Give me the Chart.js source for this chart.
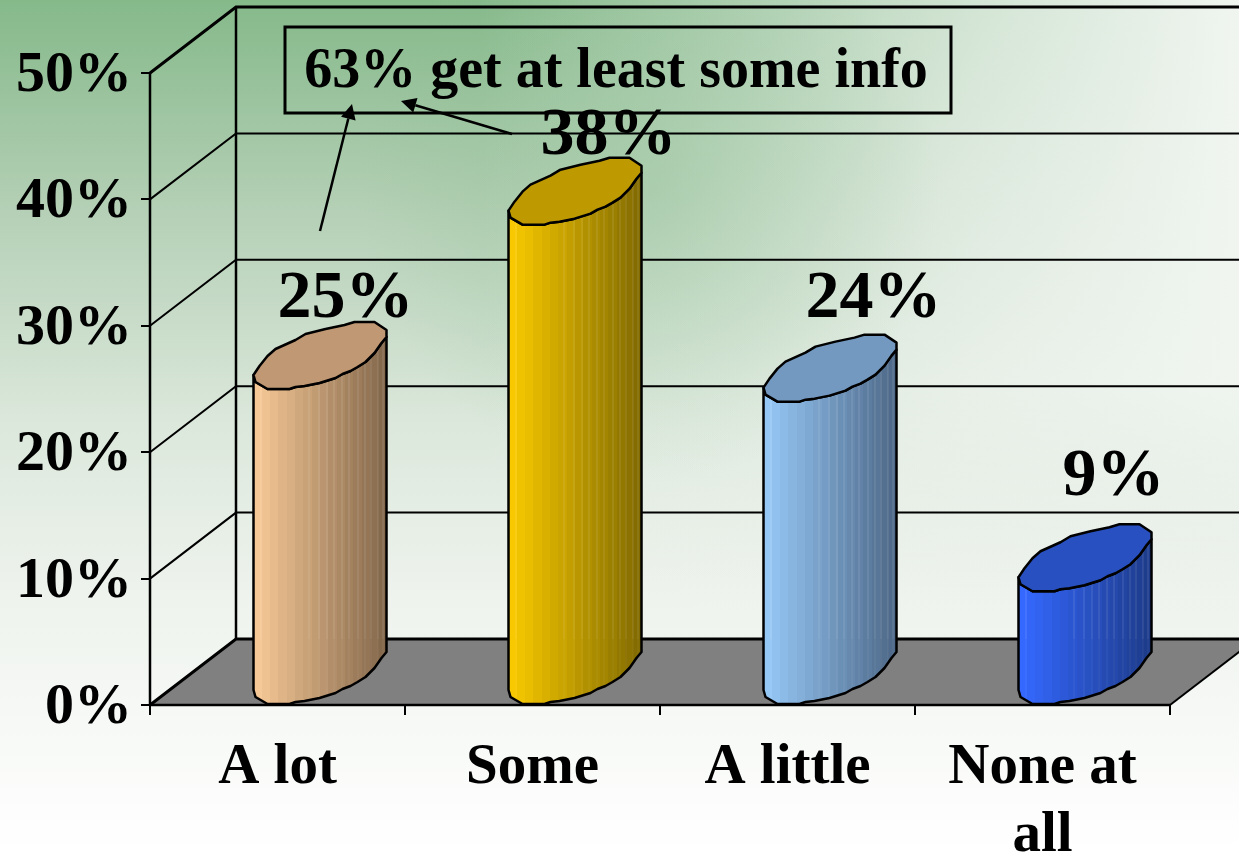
<!DOCTYPE html>
<html>
<head>
<meta charset="utf-8">
<style>html,body{margin:0;padding:0;background:#fff}#wrap{width:1239px;height:852px;position:relative;overflow:hidden}</style>
<script src="https://cdn.jsdelivr.net/npm/chart.js@4/dist/chart.umd.min.js"></script>
</head>
<body>
<div id="wrap"><canvas id="c" width="1239" height="852"></canvas></div>
<script>
const categories = [["A lot"], ["Some"], ["A little"], ["None at", "all"]];
const values = [25, 38, 24, 9];
const yTicks = [0, 10, 20, 30, 40, 50];
const noteText = "63% get at least some info";

const sideColors = [["#f6c896", "#85694c"], ["#f8c900", "#846c00"], ["#96c8f6", "#4f6a8a"], ["#3468ff", "#1e3c8c"]];
const capColors = ["#c09873", "#be9900", "#7399c0", "#2850c0"];
const labelShift = [[68, 5], [76, 4], [86, 18], [71, 29]];
const DEPTH_X = 86, DEPTH_Y = 66, HALF_DEPTH = 42.5;
const FONT = '"Liberation Serif", serif';

const capFront = [[0,-14],[2,-7],[14,0],[36,0],[42,-2],[51,-3],[66,-6],[82,-11],[89,-15],[97,-18],[104,-22],[112,-27],[121,-36],[128,-46],[133,-52]];
const capBack = [[133,-59],[121,-67],[101,-67],[91,-64],[72,-60],[52,-55],[42,-49],[22,-40],[14,-33],[6,-23]];
const facetLines = [7,55,65,73,80,88,95,104,111,117,124,129];

const backdrop = {
  id: 'backdrop',
  beforeDraw(chart) {
    const { ctx, width, height } = chart;
    ctx.save();
    let g = ctx.createLinearGradient(0, 0, 0, height);
    g.addColorStop(0, '#85b98a');
    g.addColorStop(0.25, '#b5d0b6');
    g.addColorStop(0.5, '#dce8dc');
    g.addColorStop(0.7, '#eef3ed');
    g.addColorStop(1, '#ffffff');
    ctx.fillStyle = g;
    ctx.fillRect(0, 0, width, height);
    g = ctx.createLinearGradient(480, 0, 1239, 0);
    g.addColorStop(0, 'rgba(240,245,240,0)');
    g.addColorStop(0.3, 'rgba(240,245,240,0.35)');
    g.addColorStop(0.65, 'rgba(240,245,240,0.72)');
    g.addColorStop(1, 'rgba(240,245,240,1)');
    ctx.fillStyle = g;
    for (let y = 0; y < 640; y++) {
      ctx.globalAlpha = Math.min(1, (640 - y) / 260);
      ctx.fillRect(0, y, width, 1);
    }
    ctx.globalAlpha = 1;
    g = ctx.createRadialGradient(650, 190, 0, 650, 190, 290);
    g.addColorStop(0, 'rgba(140,190,145,0.42)');
    g.addColorStop(1, 'rgba(140,190,145,0)');
    ctx.fillStyle = g;
    ctx.fillRect(0, 0, width, height);
    ctx.restore();
  }
};

const walls = {
  id: 'walls',
  beforeDatasetsDraw(chart) {
    const { ctx } = chart;
    const ys = chart.scales.y;
    const l = chart.chartArea.left, r = chart.chartArea.right;
    const y0 = ys.getPixelForValue(0), yTop = ys.getPixelForValue(50);
    ctx.save();
    ctx.fillStyle = '#808080';
    ctx.beginPath();
    ctx.moveTo(l, y0); ctx.lineTo(r, y0); ctx.lineTo(r + DEPTH_X, y0 - DEPTH_Y); ctx.lineTo(l + DEPTH_X, y0 - DEPTH_Y);
    ctx.closePath(); ctx.fill();
    ctx.strokeStyle = '#000';
    yTicks.forEach(v => {
      const y = ys.getPixelForValue(v);
      const major = v === 0 || v === 50;
      ctx.lineWidth = major ? 3 : 2;
      ctx.beginPath();
      ctx.moveTo(l, y); ctx.lineTo(l + DEPTH_X, y - DEPTH_Y); ctx.lineTo(r + DEPTH_X, y - DEPTH_Y);
      ctx.stroke();
    });
    ctx.lineWidth = 2.5;
    ctx.beginPath();
    ctx.moveTo(l + DEPTH_X, y0 - DEPTH_Y); ctx.lineTo(l + DEPTH_X, yTop - DEPTH_Y);
    ctx.stroke();
    ctx.lineWidth = 2;
    ctx.beginPath();
    ctx.moveTo(r, y0); ctx.lineTo(r + DEPTH_X, y0 - DEPTH_Y);
    ctx.stroke();
    ctx.lineWidth = 2.5;
    ctx.beginPath();
    ctx.moveTo(l, y0); ctx.lineTo(r, y0);
    ctx.moveTo(l, y0); ctx.lineTo(l, yTop);
    ctx.stroke();
    ctx.restore();
  }
};

function trace(path, pts, x, y, start) {
  pts.forEach((p, i) => {
    const px = x + p[0], py = y + p[1];
    if (i === 0 && start) path.moveTo(px, py); else path.lineTo(px, py);
  });
}

function mix(a, b, t) {
  const pa = parseInt(a.slice(1), 16), pb = parseInt(b.slice(1), 16);
  const ch = s => Math.round(((pa >> s) & 255) * (1 - t) + ((pb >> s) & 255) * t);
  return `rgb(${ch(16)},${ch(8)},${ch(0)})`;
}

const cylinders = {
  id: 'cylinders',
  beforeDatasetDraw(chart, args) {
    const { ctx } = chart;
    const meta = args.meta;
    const backY = chart.scales.y.getPixelForValue(0) - DEPTH_Y;
    meta.data.forEach((bar, i) => {
      const p = bar.getProps(['x', 'y', 'base', 'width'], true);
      const left = p.x - p.width / 2 + HALF_DEPTH;
      const right = left + p.width;
      ctx.save();
      const sideG = ctx.createLinearGradient(left, 0, right, 0);
      const steps = 16;
      for (let k = 0; k < steps; k++) {
        const c = mix(sideColors[i][0], sideColors[i][1], k / (steps - 1));
        sideG.addColorStop(k / steps, c);
        sideG.addColorStop((k + 1) / steps, c);
      }
      const body = new Path2D();
      trace(body, capFront, left, p.y, true);
      trace(body, capFront.slice().reverse(), left, p.base, false);
      body.closePath();
      ctx.fillStyle = sideG;
      ctx.fill(body);
      ctx.save();
      ctx.clip(body);
      ctx.lineWidth = 1;
      facetLines.forEach(dx => {
        ctx.strokeStyle = 'rgba(255,255,255,0.16)';
        ctx.beginPath(); ctx.moveTo(left + dx + .5, p.y - 70); ctx.lineTo(left + dx + .5, backY); ctx.stroke();
        ctx.strokeStyle = 'rgba(255,255,255,0.07)';
        ctx.beginPath(); ctx.moveTo(left + dx + .5, backY); ctx.lineTo(left + dx + .5, p.base); ctx.stroke();
      });
      ctx.restore();
      ctx.strokeStyle = '#000';
      ctx.lineWidth = 2.5;
      ctx.lineJoin = 'round';
      ctx.stroke(body);
      const cap = new Path2D();
      trace(cap, capFront, left, p.y, true);
      trace(cap, capBack, left, p.y, false);
      cap.closePath();
      ctx.fillStyle = capColors[i];
      ctx.fill(cap);
      ctx.stroke(cap);
      ctx.restore();
    });
    return false;
  },
  afterDatasetsDraw(chart) {
    const { ctx } = chart;
    const meta = chart.getDatasetMeta(0);
    ctx.save();
    ctx.fillStyle = '#000';
    ctx.font = `bold 68px ${FONT}`;
    ctx.textAlign = 'center';
    ctx.textBaseline = 'alphabetic';
    meta.data.forEach((bar, i) => {
      const capTop = bar.y - 67;
      ctx.fillText(values[i] + '%', bar.x + labelShift[i][0], capTop - labelShift[i][1]);
    });
    ctx.restore();
  }
};

const note = {
  id: 'note',
  afterDraw(chart) {
    const { ctx } = chart;
    ctx.save();
    ctx.strokeStyle = '#000';
    ctx.fillStyle = '#000';
    ctx.lineWidth = 3;
    ctx.strokeRect(285, 27, 666, 86);
    ctx.font = `bold 56px ${FONT}`;
    ctx.textAlign = 'center';
    ctx.textBaseline = 'alphabetic';
    ctx.fillText(noteText, 616, 87);
    const arrow = (x1, y1, x2, y2) => {
      const a = Math.atan2(y2 - y1, x2 - x1), len = 15, w = 7.5;
      ctx.lineWidth = 2.5;
      ctx.beginPath(); ctx.moveTo(x1, y1); ctx.lineTo(x2 - len * Math.cos(a), y2 - len * Math.sin(a)); ctx.stroke();
      ctx.beginPath();
      ctx.moveTo(x2, y2);
      ctx.lineTo(x2 - len * Math.cos(a) + w * Math.sin(a), y2 - len * Math.sin(a) - w * Math.cos(a));
      ctx.lineTo(x2 - len * Math.cos(a) - w * Math.sin(a), y2 - len * Math.sin(a) + w * Math.cos(a));
      ctx.closePath(); ctx.fill();
    };
    arrow(320, 231, 352, 104);
    arrow(512, 134, 401, 101);
    ctx.restore();
  }
};

new Chart(document.getElementById('c'), {
  type: 'bar',
  data: {
    labels: categories,
    datasets: [{
      data: values,
      backgroundColor: capColors,
      barPercentage: 133 / 255,
      categoryPercentage: 1
    }]
  },
  plugins: [backdrop, walls, cylinders, note],
  options: {
    responsive: false,
    animation: false,
    layout: { padding: { left: 0, right: 69, top: 73, bottom: 0 } },
    plugins: { legend: { display: false }, tooltip: { enabled: false } },
    scales: {
      x: {
        afterFit(s) { s.height = 147; },
        border: { display: true, color: '#000', width: 2 },
        grid: { drawOnChartArea: false, drawTicks: true, tickLength: 10, color: '#000', lineWidth: 2, offset: true },
        ticks: {
          color: '#000', padding: 20, maxRotation: 0, autoSkip: false,
          font: { family: FONT, weight: 'bold', size: 57, lineHeight: 1.18 }
        }
      },
      y: {
        min: 0, max: 50,
        afterFit(s) { s.width = 150; },
        afterBuildTicks(s) { s.ticks = yTicks.map(v => ({ value: v })); },
        border: { display: true, color: '#000', width: 2 },
        grid: { drawOnChartArea: false, drawTicks: true, tickLength: 9, color: '#000', lineWidth: 2 },
        ticks: {
          color: '#000', padding: 9, labelOffset: 3,
          callback: v => v + '%',
          font: { family: FONT, weight: 'bold', size: 58 }
        }
      }
    }
  }
});
</script>
</body>
</html>
